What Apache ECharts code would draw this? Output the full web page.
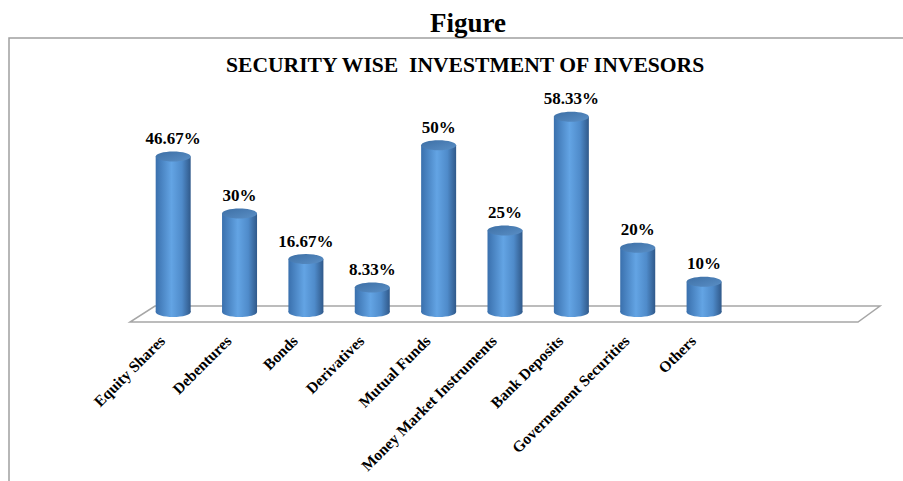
<!DOCTYPE html>
<html>
<head>
<meta charset="utf-8">
<script src="https://cdn.jsdelivr.net/npm/echarts@6/dist/echarts.min.js"></script>
<style>html,body{margin:0;padding:0;background:#fff;}#c{width:903px;height:481px;}</style>
</head>
<body>
<div id="c"></div>
<script>
var pageTitle = 'Figure';
var chartTitle = 'SECURITY WISE  INVESTMENT OF INVESORS';
var categories = ['Equity Shares', 'Debentures', 'Bonds', 'Derivatives', 'Mutual Funds', 'Money Market Instruments', 'Bank Deposits', 'Governement Securities', 'Others'];
var values = [46.67, 30, 16.67, 8.33, 50, 25, 58.33, 20, 10];
var emptySlots = ['', ''];

var axisCats = categories.concat(emptySlots);
var FONT = 'Liberation Serif';

var chart = echarts.init(document.getElementById('c'), null, {renderer: 'svg'});

var DEPTH_X = 11;

function cylinder(params, api) {
  var x = api.value(0), v = api.value(1);
  var top = api.coord([x, v]);
  var base = api.coord([x, 0]);
  var cx = top[0] + DEPTH_X;
  var rx = 17.5, ry = 5;
  var yt = top[1], yb = base[1] - 4;
  var bodyGrad = new echarts.graphic.LinearGradient(0, 0, 1, 0, [
    {offset: 0, color: '#3a70ad'},
    {offset: 0.45, color: '#63a4e4'},
    {offset: 0.75, color: '#4f8bca'},
    {offset: 1, color: '#30598a'}
  ]);
  var topGrad = new echarts.graphic.LinearGradient(0, 0, 1, 1, [
    {offset: 0, color: '#3d6fa5'},
    {offset: 1, color: '#5a8fc6'}
  ]);
  return {
    type: 'group',
    children: [
      {type: 'rect', shape: {x: cx - rx, y: yt, width: rx * 2, height: yb - yt}, style: {fill: bodyGrad}},
      {type: 'ellipse', shape: {cx: cx, cy: yb, rx: rx, ry: ry}, style: {fill: bodyGrad}},
      {type: 'ellipse', shape: {cx: cx, cy: yt, rx: rx, ry: ry}, style: {fill: topGrad}},
      {type: 'text', x: cx, y: yt - 18, style: {
        text: v + '%', fill: '#000', fontFamily: FONT, fontWeight: 'bold', fontSize: 17,
        align: 'center', verticalAlign: 'middle'
      }}
    ]
  };
}

function floor(params, api) {
  var cs = params.coordSys;
  var L = cs.x, R = cs.x + cs.width, Y = cs.y + cs.height;
  return {
    type: 'polygon',
    shape: {points: [[L + 1, Y + 6], [R - 1, Y + 6], [R + 21, Y - 10], [L + 26, Y - 10]]},
    style: {fill: '#fff', stroke: '#a6a6a6', lineWidth: 1.5}
  };
}

var barData = values.map(function (v, i) { return [i, v]; });

chart.setOption({
  animation: false,
  title: [
    {text: pageTitle, left: 425, top: 4, textStyle: {fontFamily: FONT, fontWeight: 'bold', fontSize: 27, color: '#000'}},
    {text: chartTitle, left: 221, top: 49, textStyle: {fontFamily: FONT, fontWeight: 'bold', fontSize: 21.6, color: '#000'}}
  ],
  graphic: [
    {type: 'polyline', shape: {points: [[9, 481], [9, 38], [903, 38]]}, style: {stroke: '#a0a0a0', lineWidth: 1.5, fill: null}}
  ],
  grid: {left: 129, right: 44, top: 111, bottom: 165, containLabel: false, outerBoundsMode: 'none'},
  xAxis: {
    type: 'category', data: axisCats,
    axisLine: {show: false}, axisTick: {show: false},
    axisLabel: {rotate: 45, interval: 0, margin: 22, color: '#000', fontFamily: FONT, fontWeight: 'bold', fontSize: 15.5}
  },
  yAxis: {type: 'value', min: 0, max: 60, show: false, splitLine: {show: false}},
  series: [
    {type: 'custom', z: 1, data: [[0, 0]], renderItem: floor, silent: true},
    {type: 'custom', z: 2, data: barData, renderItem: cylinder, encode: {x: 0, y: 1}}
  ]
});
</script>
</body>
</html>
